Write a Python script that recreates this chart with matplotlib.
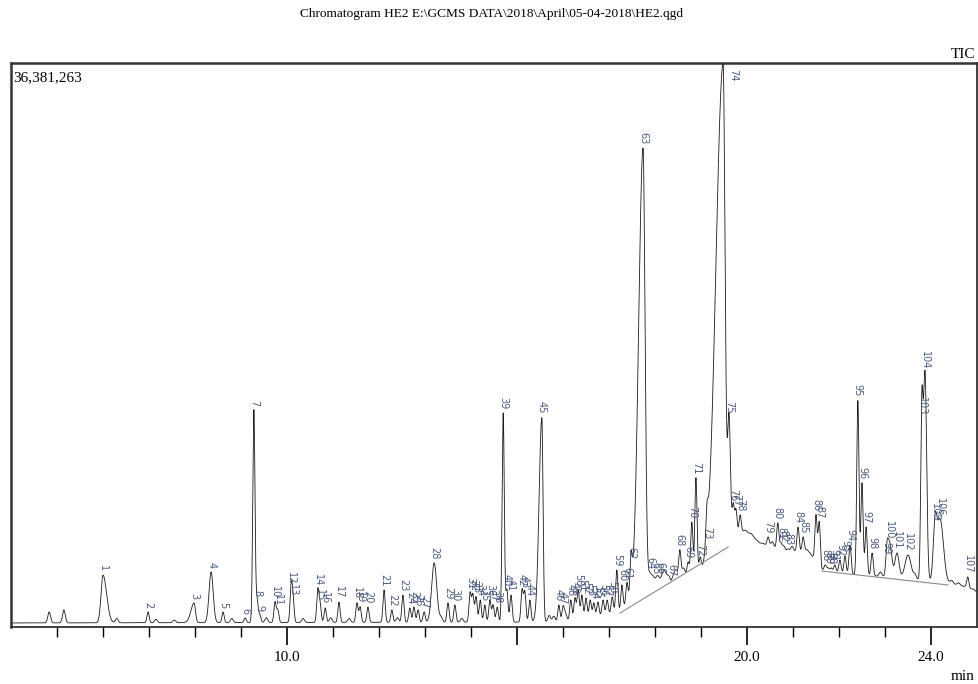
import numpy as np
import matplotlib
matplotlib.use("Agg")
import matplotlib.pyplot as plt

# ---- data (retention time in min, intensity in counts) ----
title = r"Chromatogram HE2 E:\GCMS DATA\2018\April\05-04-2018\HE2.qgd"
max_label = "36,381,263"
y_max = 36381263

# baseline / drift knots (min, million counts)
base_t = [4.0, 15.93, 16.80, 17.24, 17.67, 17.89, 18.98, 19.24, 19.59, 19.96,
          20.28, 20.72, 21.37, 21.63, 22.24, 23.33, 24.30, 24.75, 25.0]
base_i = [0.26, 0.32, 0.71, 0.97, 2.39, 3.35, 3.35, 3.68, 5.61, 6.26,
          5.42, 4.97, 4.77, 3.68, 3.42, 3.16, 2.90, 2.60, 2.26]

# numbered peaks: apex time and apex intensity (million counts)
peak_t = [6.00, 6.98, 7.98, 8.35, 8.61, 9.09, 9.28, 9.35, 9.41, 9.74,
          9.80, 10.09, 10.13, 10.67, 10.72, 10.83, 11.13, 11.52, 11.59, 11.76,
          12.11, 12.28, 12.52, 12.67, 12.76, 12.85, 12.98, 13.20, 13.50, 13.65,
          13.98, 14.04, 14.11, 14.20, 14.30, 14.41, 14.48, 14.57, 14.70, 14.78,
          14.87, 15.11, 15.17, 15.28, 15.54, 15.91, 16.00, 16.17, 16.26, 16.33,
          16.41, 16.50, 16.59, 16.67, 16.76, 16.87, 16.96, 17.07, 17.17, 17.28,
          17.39, 17.48, 17.74, 17.89, 18.00, 18.11, 18.35, 18.54, 18.72, 18.80,
          18.89, 18.98, 19.13, 19.48, 19.61, 19.70, 19.76, 19.85, 20.46, 20.67,
          20.74, 20.80, 20.89, 21.11, 21.22, 21.50, 21.57, 21.70, 21.76, 21.83,
          21.91, 22.02, 22.13, 22.24, 22.41, 22.50, 22.59, 22.72, 23.04, 23.09,
          23.26, 23.50, 23.80, 23.87, 24.09, 24.20, 24.80]
peak_i = [3.35, 0.97, 1.55, 3.55, 0.97, 0.58, 14.0, 1.74, 0.77, 1.61,
          1.10, 2.52, 1.74, 2.39, 1.42, 1.23, 1.61, 1.55, 1.29, 1.29,
          2.39, 1.10, 2.06, 1.23, 1.29, 1.10, 0.97, 4.13, 1.55, 1.42,
          2.19, 2.06, 1.94, 1.74, 1.42, 1.74, 1.42, 1.29, 13.8, 2.39,
          2.06, 2.39, 2.26, 1.74, 13.5, 1.42, 1.23, 1.74, 1.87, 2.39,
          2.06, 1.87, 1.74, 1.55, 1.61, 1.74, 1.74, 1.94, 3.68, 2.71,
          2.84, 4.13, 30.9, 3.48, 3.16, 3.16, 3.03, 4.97, 4.19, 6.77,
          9.61, 4.32, 5.42, 36.38, 13.5, 7.87, 7.55, 7.22, 5.81, 6.71,
          5.42, 5.22, 5.03, 6.45, 5.81, 7.22, 6.77, 4.00, 3.81, 3.81,
          4.00, 4.32, 4.58, 5.29, 14.6, 9.29, 6.45, 4.77, 4.45, 5.42,
          4.77, 4.64, 13.4, 16.4, 6.58, 6.90, 3.23]
peak_no = list(range(1, len(peak_t) + 1))

# unnumbered bumps
extra_t = [4.83, 5.15, 6.30, 7.15, 7.55, 8.80, 9.55, 10.35, 10.95, 11.35,
           12.40, 13.35, 13.80, 15.70, 15.80, 16.05, 18.20, 18.45, 18.62,
           20.10, 20.35, 20.55, 20.98, 21.30, 22.90, 23.15, 23.65, 24.45, 24.60, 24.92]
extra_i = [0.97, 1.10, 0.55, 0.50, 0.45, 0.55, 0.60, 0.55, 0.60, 0.55,
           0.60, 0.60, 0.55, 0.75, 0.70, 0.90, 3.65, 3.70, 3.80,
           6.00, 5.40, 5.50, 5.20, 5.00, 3.55, 3.70, 3.35, 3.00, 2.85, 2.45]

# peak shapes (left sigma, right sigma) in min where they differ from the default
shape = {1: (0.043, 0.078), 3: (0.07, 0.03), 4: (0.045, 0.045), 28: (0.055, 0.055),
         45: (0.06, 0.026), 63: (0.096, 0.043), 74: (0.157, 0.043), 75: (0.03, 0.03),
         102: (0.065, 0.065), 104: (0.035, 0.035), 105: (0.04, 0.04), 106: (0.06, 0.07),
         100: (0.04, 0.04), 101: (0.045, 0.045)}

# integration baselines drawn by the software
seg_t = [(17.24, 19.59), (21.63, 24.37)]
seg_i = [(0.90, 5.16), (3.61, 2.71)]

major_ticks = [10, 15, 20, 24]
major_labels = ["10.0", "", "20.0", "24.0"]

# ---- build the trace ----
t = np.linspace(4.0, 25.0, 21001)
base = np.interp(t, base_t, base_i)
trace = base.copy()


def add_peak(tc, apex, sl, sr):
    h = apex - np.interp(tc, base_t, base_i)
    s = np.where(t < tc, sl, sr)
    return h * np.exp(-0.5 * ((t - tc) / s) ** 2)


for n, tc, ap in zip(peak_no, peak_t, peak_i):
    sl, sr = shape.get(n, (0.024, 0.024))
    trace = trace + add_peak(tc, ap, sl, sr)
for tc, ap in zip(extra_t, extra_i):
    trace = trace + add_peak(tc, ap, 0.03, 0.03)

trace = np.minimum(trace, y_max / 1e6)

# ---- plot ----
plt.rcParams['font.family'] = ['Liberation Serif', 'DejaVu Serif']
fig = plt.figure(figsize=(9.79, 6.84), dpi=100)
ax = fig.add_axes([11 / 979, 57 / 684, 966 / 979, 564 / 684])

ax.plot(t, trace, color='#1a1a1a', lw=0.6)
for (a, b), (c, d) in zip(seg_t, seg_i):
    ax.plot([a, b], [c, d], color='#8a8a8a', lw=0.8)

for n, tc, ap in zip(peak_no, peak_t, peak_i):
    if ap >= y_max / 1e6 - 0.01:
        ax.text(tc + 0.22, ap - 0.4, str(n), rotation=-90, fontsize=7,
                color='#4a5a80', ha='center', va='top', family='DejaVu Sans')
    else:
        ax.text(tc, ap + 0.25, str(n), rotation=-90, fontsize=7,
                color='#4a5a80', ha='center', va='bottom', family='DejaVu Sans')

ax.set_xlim(4.0, 25.0)
ax.set_ylim(0, y_max / 1e6)
ax.set_yticks([])
ax.set_xticks(major_ticks)
ax.set_xticklabels(major_labels, fontsize=11)
ax.set_xticks(np.arange(5, 25, 1), minor=True)
ax.tick_params(axis='x', which='major', length=13, width=1.2, direction='out', pad=4)
ax.tick_params(axis='x', which='minor', length=7, width=1.0, direction='out')
for side in ['left', 'top', 'right', 'bottom']:
    ax.spines[side].set_color('#333333')
ax.spines['left'].set_linewidth(1.8)
ax.spines['top'].set_linewidth(1.8)
ax.spines['right'].set_linewidth(1.3)
ax.spines['bottom'].set_linewidth(1.3)

ax.text(0.002, 0.985, max_label, transform=ax.transAxes, fontsize=11,
        ha='left', va='top')
fig.text(975 / 979, 1 - 55 / 684, "TIC", fontsize=11, ha='right', va='center')
fig.text(975 / 979, 1 - 676 / 684, "min", fontsize=11, ha='right', va='center')
fig.text(492 / 979, 1 - 14 / 684, title, fontsize=9.6, ha='center', va='center')

fig.savefig('out.png', dpi=100)
